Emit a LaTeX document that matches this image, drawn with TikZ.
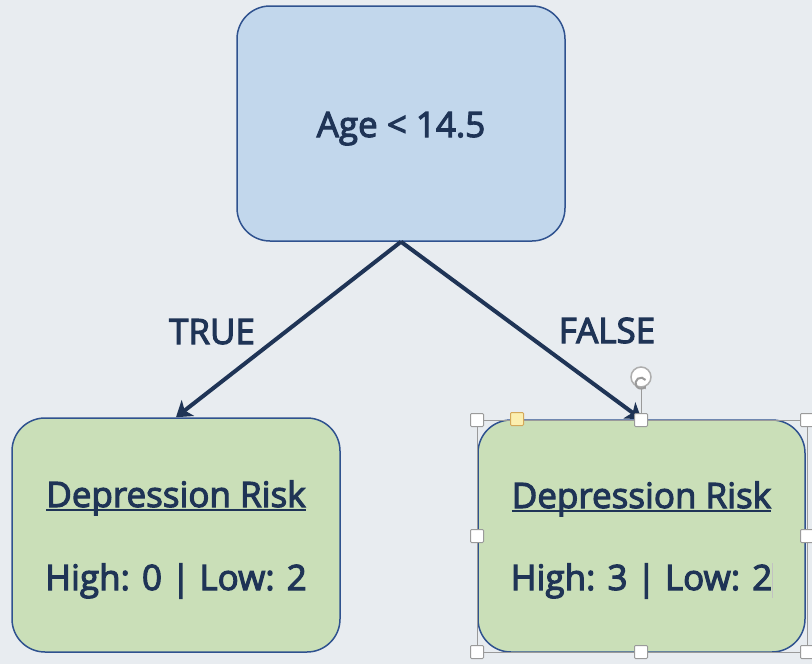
\documentclass[tikz,border=0pt]{standalone}
\usepackage{fontspec}
\setmainfont{Open Sans}
\usetikzlibrary{arrows.meta,calc}
\definecolor{bg}{HTML}{E8ECF0}
\definecolor{bluefill}{HTML}{C2D7EC}
\definecolor{greenfill}{HTML}{CADFB8}
\definecolor{edge}{HTML}{2F528F}
\definecolor{ink}{HTML}{1F3456}
\definecolor{hgray}{HTML}{9A9A9A}
\definecolor{yfill}{HTML}{FCEFB0}
\definecolor{ydraw}{HTML}{D4A85A}
\newcommand{\myul}[1]{\setbox0\hbox{#1}\rlap{\rule[-4pt]{\wd0}{2pt}}\box0}
\newcommand{\heavy}[1]{\special{pdf:literal direct 0.122 0.204 0.337 RG 2 Tr 1.1 w}#1\special{pdf:literal direct 0 Tr}}
\begin{document}
\begin{tikzpicture}[x=1pt,y=-1pt,
 box/.style={draw=edge, line width=1.5pt, rounded corners=33pt, inner sep=0pt},
 txt/.style={text=ink, font=\fontsize{35}{40}\selectfont, anchor=base, inner sep=0pt},
 conn/.style={draw=ink, line width=4pt, -{Stealth[length=15pt,width=20pt,inset=4pt]}},
 handle/.style={draw=hgray, fill=white, line width=1pt, minimum size=13pt, inner sep=0pt, rounded corners=1pt}
]
\fill[bg] (0,0) rectangle (812,664);
\useasboundingbox (0,0) rectangle (812,664);
\node[box, fill=bluefill, minimum width=328pt, minimum height=235pt] (root) at (401,123.5) {};
\node[box, fill=greenfill, minimum width=328pt, minimum height=234pt] (left) at (176,535) {};
\node[box, fill=greenfill, minimum width=327pt, minimum height=232pt] (right) at (641.5,536) {};
\node[txt] (rootlbl) at (401,137) {\heavy{Age < 14.5}};
\node[txt] (lt) at (176,507) {\myul{\heavy{Depression Risk}}};
\node[txt] (lb) at (176,590) {\heavy{High: 0 | Low: 2}};
\node[txt] (rt) at (641.5,508) {\myul{\heavy{Depression Risk}}};
\node[txt] (rb) at (641.5,590) {\heavy{High: 3 | Low: 2}};
\draw[conn] (root.south) -- (left.north);
\draw[conn] (root.south) -- (right.north);
\node[txt] (truelbl) at (212,344) {\heavy{TRUE}};
\node[txt] (falselbl) at (607,343) {\heavy{FALSE}};
% selection frame
\draw[hgray, line width=1pt] (477,420) rectangle (807,652);
\draw[hgray, line width=1pt] (641,387) -- (641,413);
\node[draw=hgray!80, fill=white, line width=1.5pt, circle, minimum size=20pt, inner sep=0pt] (rot) at (641,377) {};
\draw[hgray, line width=2pt, -{Stealth[length=3pt,width=4pt]}] ($(rot.center)+(4.5,3)$) arc[start angle=35, end angle=330, radius=5.5pt];
\foreach \x/\y in {477/420,641/420,807/420,477/536,807/536,477/652,641/652,807/652}
  \node[handle] at (\x,\y) {};
\node[handle, draw=ydraw, fill=yfill] (yh) at (517,419) {};
\draw[hgray!60, line width=0.8pt] (772,563) -- (772,598);
\end{tikzpicture}
\end{document}
